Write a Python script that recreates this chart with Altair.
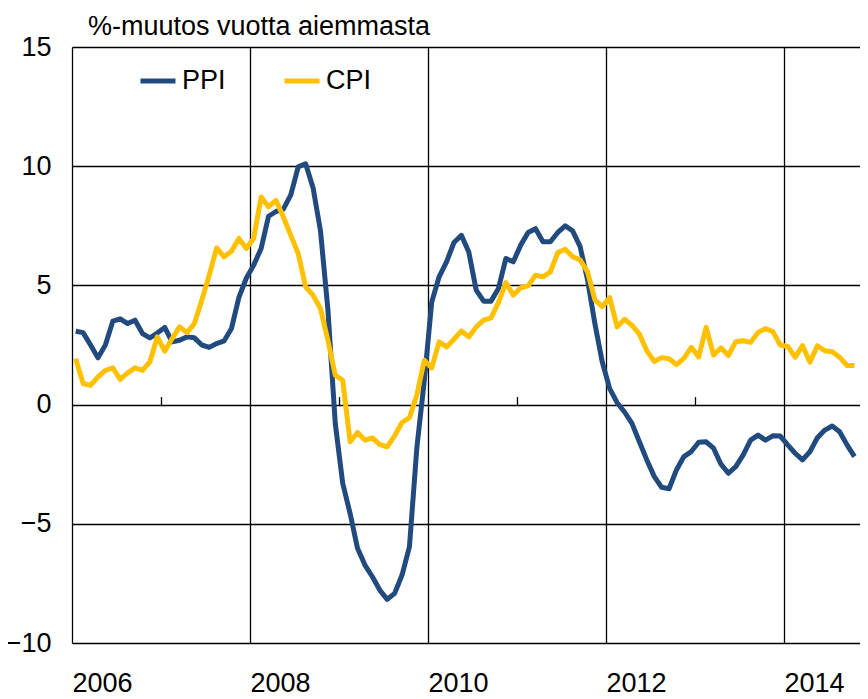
import altair as alt
import pandas as pd

start_year = 2006
n_months = 106

ppi = [3.08, 3.02, 2.5, 1.96, 2.5, 3.5, 3.6, 3.4, 3.54, 2.98, 2.8, 3.0,
       3.24, 2.63, 2.7, 2.84, 2.8, 2.5, 2.4, 2.56, 2.67, 3.19, 4.5, 5.3,
       5.85, 6.55, 7.9, 8.1, 8.2, 8.8, 9.97, 10.1, 9.1, 7.3, 4.0, -0.8,
       -3.3, -4.57, -6.03, -6.73, -7.22, -7.78, -8.17, -7.92, -7.15, -5.96, -1.8, 1.0,
       4.3, 5.36, 5.99, 6.8, 7.1, 6.4, 4.8, 4.34, 4.34, 4.87, 6.13, 5.99,
       6.69, 7.22, 7.38, 6.83, 6.83, 7.22, 7.5, 7.29, 6.64, 5.25, 3.4, 1.78,
       0.67, 0.08, -0.31, -0.79, -1.56, -2.32, -3.01, -3.47, -3.53, -2.74, -2.18, -1.97,
       -1.58, -1.56, -1.83, -2.5, -2.88, -2.6, -2.11, -1.49, -1.28, -1.49, -1.31, -1.32,
       -1.69, -2.04, -2.32, -1.97, -1.39, -1.07, -0.9, -1.14, -1.69, -2.18]

cpi = [1.93, 0.88, 0.81, 1.16, 1.44, 1.54, 1.06, 1.33, 1.54, 1.44, 1.79, 2.84,
       2.24, 2.77, 3.26, 3.02, 3.4, 4.38, 5.43, 6.57, 6.2, 6.43, 6.97, 6.55,
       6.97, 8.71, 8.3, 8.57, 7.87, 7.1, 6.34, 4.94, 4.59, 4.03, 2.7, 1.23,
       1.02, -1.56, -1.17, -1.49, -1.4, -1.68, -1.77, -1.31, -0.75, -0.55, 0.4, 1.86,
       1.54, 2.63, 2.42, 2.74, 3.09, 2.84, 3.26, 3.54, 3.64, 4.28, 5.12, 4.59,
       4.9, 4.98, 5.43, 5.36, 5.57, 6.38, 6.52, 6.2, 6.07, 5.58, 4.4, 4.11,
       4.49, 3.26, 3.58, 3.33, 2.96, 2.26, 1.81, 1.97, 1.92, 1.68, 1.94, 2.4,
       2.0, 3.24, 2.08, 2.38, 2.06, 2.64, 2.68, 2.61, 3.03, 3.19, 3.06, 2.5,
       2.44, 1.99, 2.47, 1.78, 2.47, 2.26, 2.22, 1.99, 1.64, 1.64]

series_names = ["PPI", "CPI"]
series_colors = ["#214A7E", "#FFC000"]
year_ticks = [2006, 2008, 2010, 2012, 2014]
minor_ticks = [2007, 2009, 2011, 2013]
y_ticks = [-10, -5, 0, 5, 10, 15]

FONT = "Liberation Sans"
FS = 27

# month positions (mid-month, fractional years)
t = [start_year + (i + 0.5) / 12 for i in range(n_months)]

rows = []
for name, vals in zip(series_names, [ppi, cpi]):
    for ti, v in zip(t, vals):
        rows.append({"t": ti, "value": v, "series": name})
df = pd.DataFrame(rows)

W, H = 788, 596
x_domain = [2006, 2006 + W / 89.0]

xscale = alt.Scale(domain=x_domain, nice=False, zero=False)
yscale = alt.Scale(domain=[-10, 15], nice=False)

lines = alt.Chart(df).mark_line(strokeWidth=5, strokeJoin="round", clip=True).encode(
    x=alt.X("t:Q", scale=xscale,
            axis=alt.Axis(values=year_ticks, format="d", labelAlign="left",
                          labelBaseline="top", labelPadding=27, ticks=False,
                          domain=False, grid=True, gridColor="#000",
                          gridWidth=1.3, labelFlush=False, title=None,
                          labelFont=FONT, labelFontSize=FS, labelColor="#000")),
    y=alt.Y("value:Q", scale=yscale,
            axis=alt.Axis(values=y_ticks, ticks=False, domain=False, grid=True,
                          gridColor="#000", gridWidth=1.3, labelPadding=21,
                          title=None, labelFont=FONT, labelFontSize=FS,
                          labelColor="#000")),
    color=alt.Color("series:N",
                    scale=alt.Scale(domain=series_names, range=series_colors),
                    legend=alt.Legend(title=None, orient="none", legendX=66,
                                      legendY=14, direction="horizontal",
                                      symbolType="stroke", symbolSize=1225,
                                      symbolStrokeWidth=5, labelFont=FONT,
                                      labelFontSize=FS, labelColor="#000",
                                      labelOffset=4, columnPadding=48)),
    detail="series:N",
)

tick_layer = alt.Chart(df).mark_line(strokeOpacity=0).encode(
    x=alt.X("t:Q", scale=xscale,
            axis=alt.Axis(orient="top", offset=-358.6, values=minor_ticks,
                          labels=False, domain=False, grid=False, ticks=True,
                          tickSize=9, tickWidth=1.3, tickColor="#000",
                          title=None)),
    y=alt.Y("value:Q", scale=yscale),
    detail="series:N",
)

chart = alt.layer(lines, tick_layer).resolve_axis(x="independent").properties(
    width=W, height=H,
    autosize=alt.AutoSizeParams(type="none"),
    padding={"left": 64, "top": 39, "right": 0, "bottom": 56},
    title=alt.TitleParams("%-muutos  vuotta aiemmasta", anchor="start",
                          frame="group", font=FONT, fontSize=FS,
                          fontWeight="normal", color="#000", dx=16, dy=14,
                          offset=6),
).configure_view(stroke=None).configure(background="white")

chart.save("out.html", embed_options={"renderer": "svg", "actions": False})
